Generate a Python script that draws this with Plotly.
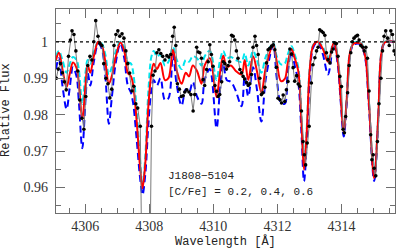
import plotly.graph_objects as go

# ---------------- data ----------------
model_wave = [4305.09, 4305.18, 4305.29, 4305.42, 4305.52, 4305.62, 4305.73, 4305.80, 4305.91, 4306.01,
              4306.08, 4306.16, 4306.27, 4306.41, 4306.52, 4306.63, 4306.74, 4306.83, 4306.96, 4307.10,
              4307.22, 4307.33, 4307.43, 4307.50, 4307.61, 4307.71, 4307.79, 4307.88, 4307.97, 4308.07,
              4308.14, 4308.24, 4308.35, 4308.49, 4308.60, 4308.74, 4308.86, 4309.01, 4309.14, 4309.24,
              4309.36, 4309.49, 4309.63, 4309.73, 4309.89, 4310.10, 4310.20, 4310.31, 4310.42, 4310.55,
              4310.70, 4310.88, 4310.98, 4311.09, 4311.24, 4311.36, 4311.50, 4311.64, 4311.87, 4311.98,
              4312.11, 4312.23, 4312.32, 4312.44, 4312.54, 4312.65, 4312.75, 4312.83, 4312.92, 4313.01,
              4313.12, 4313.26, 4313.42, 4313.58, 4313.76, 4313.88, 4313.98, 4314.07, 4314.17, 4314.26,
              4314.38, 4314.60, 4314.74, 4314.85, 4315.02, 4315.15, 4315.24, 4315.35, 4315.67]

flux_cfe02 = [0.9960, 0.9975, 0.9950, 0.9915, 0.9940, 0.9958, 0.9950, 0.9925, 0.9830, 0.9915,
              0.9950, 0.9940, 0.9972, 1.0000, 0.9995, 0.9965, 0.9910, 0.9930, 0.9975, 1.0000,
              0.9985, 0.9945, 0.9940, 0.9915, 0.9810, 0.9680, 0.9605, 0.9690, 0.9860, 0.9960,
              0.9975, 0.9960, 0.9965, 0.9935, 0.9945, 0.9985, 0.9950, 0.9925, 0.9950, 0.9945,
              0.9960, 0.9955, 0.9935, 0.9960, 0.9975, 0.9895, 0.9945, 0.9975, 0.9955, 0.9958,
              0.9950, 0.9945, 0.9968, 0.9935, 0.9975, 0.9950, 0.9915, 0.9960, 0.9995, 0.9960,
              0.9938, 0.9940, 0.9965, 0.9988, 0.9965, 0.9930, 0.9790, 0.9655, 0.9770, 0.9930,
              0.9992, 1.0000, 0.9985, 0.9955, 1.0000, 0.9955, 0.9845, 0.9755, 0.9855, 0.9970,
              0.9997, 0.9998, 0.9965, 0.9845, 0.9630, 0.9805, 0.9968, 1.0000, 1.0000]

flux_cfe04 = [0.9950, 0.9970, 0.9925, 0.9876, 0.9912, 0.9943, 0.9928, 0.9890, 0.9786, 0.9880,
              0.9935, 0.9915, 0.9960, 1.0000, 0.9990, 0.9945, 0.9885, 0.9905, 0.9960, 0.9998,
              0.9975, 0.9915, 0.9905, 0.9880, 0.9780, 0.9660, 0.9598, 0.9670, 0.9820, 0.9915,
              0.9940, 0.9925, 0.9942, 0.9895, 0.9900, 0.9978, 0.9920, 0.9885, 0.9915, 0.9905,
              0.9935, 0.9920, 0.9885, 0.9935, 0.9955, 0.9848, 0.9910, 0.9962, 0.9930, 0.9935,
              0.9920, 0.9910, 0.9950, 0.9895, 0.9960, 0.9920, 0.9860, 0.9930, 0.9992, 0.9945,
              0.9892, 0.9898, 0.9940, 0.9980, 0.9955, 0.9920, 0.9780, 0.9649, 0.9760, 0.9925,
              0.9990, 1.0000, 0.9980, 0.9945, 0.9998, 0.9950, 0.9840, 0.9750, 0.9850, 0.9968,
              0.9995, 0.9995, 0.9960, 0.9840, 0.9626, 0.9800, 0.9965, 0.9998, 1.0000]

flux_cfe06 = [0.9925, 0.9955, 0.9880, 0.9815, 0.9875, 0.9930, 0.9905, 0.9840, 0.9708, 0.9840,
              0.9915, 0.9880, 0.9945, 0.9995, 0.9980, 0.9905, 0.9775, 0.9845, 0.9945, 0.9995,
              0.9955, 0.9880, 0.9860, 0.9830, 0.9730, 0.9630, 0.9580, 0.9640, 0.9770, 0.9870,
              0.9895, 0.9880, 0.9900, 0.9840, 0.9845, 0.9965, 0.9880, 0.9825, 0.9870, 0.9860,
              0.9890, 0.9850, 0.9830, 0.9895, 0.9925, 0.9763, 0.9860, 0.9940, 0.9895, 0.9890,
              0.9865, 0.9823, 0.9905, 0.9850, 0.9930, 0.9870, 0.9781, 0.9900, 0.9990, 0.9900,
              0.9832, 0.9830, 0.9915, 0.9975, 0.9935, 0.9890, 0.9750, 0.9617, 0.9730, 0.9900,
              0.9985, 1.0000, 0.9965, 0.9910, 0.9995, 0.9940, 0.9830, 0.9740, 0.9840, 0.9960,
              0.9992, 0.9993, 0.9955, 0.9830, 0.9618, 0.9790, 0.9960, 0.9997, 1.0000]

obs_wave = [4305.10, 4305.16, 4305.23, 4305.29, 4305.35, 4305.41, 4305.48, 4305.54, 4305.59, 4305.65,
            4305.71, 4305.77, 4305.83, 4305.90, 4305.96, 4306.02, 4306.08, 4306.15, 4306.21, 4306.27,
            4306.33, 4306.40, 4306.46, 4306.52, 4306.58, 4306.65, 4306.71, 4306.77, 4306.83, 4306.90,
            4306.96, 4307.02, 4307.08, 4307.15, 4307.21, 4307.27, 4307.33, 4307.39, 4307.46, 4307.52,
            4307.58, 4307.64, 4307.72, 4307.78, 4307.85, 4307.91, 4307.97, 4308.03, 4308.07, 4308.12,
            4308.18, 4308.24, 4308.30, 4308.36, 4308.42, 4308.49, 4308.55, 4308.61, 4308.67, 4308.73,
            4308.78, 4308.83, 4308.88, 4308.94, 4309.00, 4309.06, 4309.11, 4309.17, 4309.24, 4309.30,
            4309.37, 4309.42, 4309.48, 4309.53, 4309.58, 4309.63, 4309.68, 4309.73, 4309.79, 4309.84,
            4309.89, 4309.94, 4309.99, 4310.05, 4310.10, 4310.15, 4310.20, 4310.26, 4310.31, 4310.36,
            4310.41, 4310.46, 4310.51, 4310.57, 4310.62, 4310.67, 4310.72, 4310.77, 4310.83, 4310.88,
            4310.93, 4310.98, 4311.04, 4311.09, 4311.14, 4311.19, 4311.24, 4311.30, 4311.35, 4311.40,
            4311.45, 4311.50, 4311.55, 4311.61, 4311.66, 4311.71, 4311.76, 4311.82, 4311.87, 4311.92,
            4311.97, 4312.02, 4312.08, 4312.13, 4312.18, 4312.23, 4312.28, 4312.33, 4312.39, 4312.44,
            4312.49, 4312.54, 4312.60, 4312.65, 4312.70, 4312.75, 4312.80, 4312.84, 4312.88, 4312.93,
            4312.99, 4313.06, 4313.11, 4313.17, 4313.22, 4313.27, 4313.32, 4313.38, 4313.43, 4313.48,
            4313.53, 4313.58, 4313.64, 4313.69, 4313.74, 4313.79, 4313.84, 4313.89, 4313.95, 4314.00,
            4314.05, 4314.09, 4314.13, 4314.19, 4314.24, 4314.29, 4314.34, 4314.39, 4314.45, 4314.50,
            4314.55, 4314.60, 4314.66, 4314.71, 4314.76, 4314.81, 4314.86, 4314.91, 4314.95, 4314.99,
            4315.02, 4315.07, 4315.12, 4315.17, 4315.23, 4315.28, 4315.33, 4315.38, 4315.44, 4315.49,
            4315.54, 4315.59, 4315.64, 4315.69]

obs_flux = [0.9900, 0.9925, 0.9940, 0.9915, 0.9890, 0.9868, 0.9960, 1.0005, 1.0030, 1.0020,
            0.9975, 0.9920, 0.9840, 0.9790, 0.9760, 0.9850, 0.9935, 0.9960, 0.9950, 1.0000,
            1.0058, 1.0015, 0.9995, 0.9990, 0.9940, 0.9900, 0.9885, 0.9846, 0.9870, 0.9990,
            1.0020, 1.0030, 1.0015, 1.0022, 1.0010, 0.9975, 0.9940, 0.9914, 0.9865, 0.9878,
            0.9830, 0.9818, 0.9768, 0.9300, 0.9250, 0.9280, 0.9350, 0.9450, 0.9768, 0.9908,
            0.9920, 0.9970, 0.9978, 0.9968, 0.9960, 0.9950, 0.9962, 0.9958, 0.9965, 1.0015,
            1.0040, 0.9990, 0.9885, 0.9870, 0.9850, 0.9852, 0.9862, 0.9868, 0.9862, 0.9855,
            0.9810, 0.9855, 0.9985, 0.9972, 0.9970, 0.9955, 0.9896, 0.9880, 0.9924, 0.9945,
            0.9992, 0.9965, 0.9933, 0.9880, 0.9864, 0.9850, 0.9855, 0.9890, 0.9945, 0.9940,
            0.9925, 0.9935, 0.9945, 1.0018, 1.0015, 1.0005, 0.9975, 0.9955, 0.9924, 0.9915,
            0.9905, 0.9898, 0.9888, 0.9880, 0.9885, 0.9910, 0.9985, 1.0015, 0.9990, 0.9965,
            0.9900, 0.9855, 0.9860, 0.9875, 0.9942, 0.9978, 0.9982, 0.9988, 0.9992, 0.9978,
            0.9930, 0.9845, 0.9841, 0.9832, 0.9854, 0.9836, 0.9868, 0.9891, 0.9980, 0.9966,
            0.9929, 0.9892, 0.9907, 0.9884, 0.9878, 0.9810, 0.9726, 0.9690, 0.9662, 0.9722,
            0.9768, 0.9887, 0.9937, 0.9956, 0.9975, 0.9985, 1.0033, 1.0029, 1.0025, 1.0018,
            0.9970, 0.9951, 0.9942, 0.9972, 0.9980, 0.9997, 0.9995, 0.9960, 0.9905, 0.9877,
            0.9760, 0.9750, 0.9795, 0.9860, 0.9935, 0.9970, 1.0000, 1.0010, 1.0015, 1.0018,
            1.0005, 0.9990, 0.9985, 0.9975, 0.9985, 0.9955, 0.9865, 0.9745, 0.9676, 0.9690,
            0.9653, 0.9632, 0.9726, 0.9830, 0.9900, 0.9975, 1.0015, 1.0030, 1.0010, 0.9990,
            1.0030, 1.0020, 0.9975, 0.9965]

continuum = 1.0
x_range = [4305.09, 4315.67]
y_range = [0.953, 1.009]
x_tickvals = [4306, 4308, 4310, 4312, 4314]
x_ticktext = ["4306", "4308", "4310", "4312", "4314"]
y_tickvals = [0.96, 0.97, 0.98, 0.99, 1.0]
y_ticktext = ["0.96", "0.97", "0.98", "0.99", "1"]
star_label = "J1808\u22125104"
abund_label = "[C/Fe] = 0.2, 0.4, 0.6"

# ---------------- figure ----------------
fig = go.Figure()

fig.add_trace(go.Scatter(x=model_wave, y=flux_cfe02, mode="lines", line_shape="spline",
                         line=dict(color="#00e5ee", width=2, dash="6px,3px"), hoverinfo="skip"))
fig.add_trace(go.Scatter(x=model_wave, y=flux_cfe06, mode="lines", line_shape="spline",
                         line=dict(color="#0000ff", width=2, dash="7px,4px"), hoverinfo="skip"))
fig.add_trace(go.Scatter(x=model_wave, y=flux_cfe04, mode="lines", line_shape="spline",
                         line=dict(color="#ff0000", width=2), hoverinfo="skip"))
fig.add_trace(go.Scatter(x=obs_wave, y=obs_flux, mode="lines+markers",
                         line=dict(color="#7a7a7a", width=1),
                         marker=dict(color="black", size=3.6), hoverinfo="skip"))

fig.add_shape(type="line", xref="paper", x0=0, x1=1, yref="y", y0=continuum, y1=continuum,
              line=dict(color="black", width=1.2, dash="dot"))

axis_common = dict(showline=True, linecolor="#6e6e6e", linewidth=1.3, mirror="ticks",
                   ticks="inside", tickcolor="#6e6e6e", tickwidth=1, ticklen=9,
                   showgrid=False, zeroline=False,
                   tickfont=dict(family="Liberation Serif", size=14, color="#333333"))

fig.update_xaxes(range=x_range, tickvals=x_tickvals, ticktext=x_ticktext,
                 minor=dict(dtick=0.5, tick0=4306, ticks="inside", ticklen=5,
                            tickcolor="#6e6e6e", showgrid=False),
                 ticklabelstandoff=0, **axis_common)
fig.update_yaxes(range=y_range, tickvals=y_tickvals, ticktext=y_ticktext,
                 minor=dict(dtick=0.005, tick0=0.96, ticks="inside", ticklen=5,
                            tickcolor="#6e6e6e", showgrid=False),
                 ticklabelstandoff=4, **axis_common)

mono = "Liberation Mono"
fig.add_annotation(x=4308.52, y=0.9632, xref="x", yref="y", text=star_label, showarrow=False,
                   xanchor="left", yanchor="middle", font=dict(family=mono, size=11, color="#222"))
fig.add_annotation(x=4308.52, y=0.9589, xref="x", yref="y", text=abund_label, showarrow=False,
                   xanchor="left", yanchor="middle", font=dict(family=mono, size=11, color="#222"))
fig.add_annotation(x=0.501, y=-0.14, xref="paper", yref="paper", text="Wavelength [\u00c5]",
                   showarrow=False, xanchor="center", yanchor="middle",
                   font=dict(family=mono, size=12, color="#222"))
fig.add_annotation(x=-0.147, y=0.506, xref="paper", yref="paper", text="Relative Flux",
                   showarrow=False, xanchor="center", yanchor="middle", textangle=-90,
                   font=dict(family=mono, size=12, color="#222"))

fig.update_layout(width=409, height=251, showlegend=False,
                  margin=dict(l=56, r=14, t=9, b=38),
                  paper_bgcolor="white", plot_bgcolor="white")

fig.write_html("out.html", config={"displayModeBar": False},
               post_script="document.body.style.margin='0px';document.body.style.overflow='hidden';")
